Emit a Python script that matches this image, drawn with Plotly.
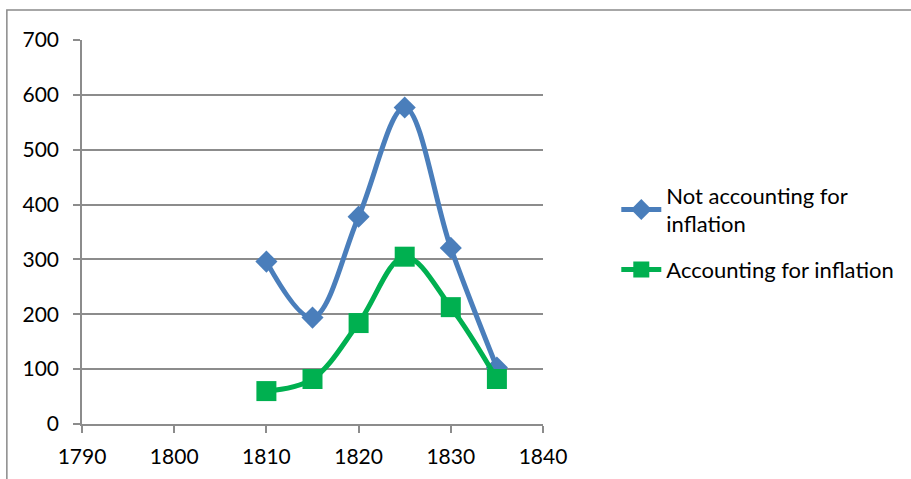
import plotly.graph_objects as go

years = [1810, 1815, 1820, 1825, 1830, 1835]
not_adjusted = [296, 194, 378, 577, 321, 103]
adjusted = [60, 82, 184, 305, 213, 82]

x_ticks = [1790, 1800, 1810, 1820, 1830, 1840]
y_ticks = [0, 100, 200, 300, 400, 500, 600, 700]

BLUE = "#4A7EBB"
GREEN = "#00B050"
GRID = "#8C8C8C"
FONT = "Lato"

fig = go.Figure()
fig.add_trace(go.Scatter(
    x=years, y=not_adjusted, mode="lines+markers",
    name="Not accounting for<br>inflation", legendgroup="nominal",
    line=dict(color=BLUE, width=5, shape="spline", smoothing=1.0),
    marker=dict(symbol="diamond", size=17, color=BLUE),
))
fig.add_trace(go.Scatter(
    x=years, y=adjusted, mode="lines+markers",
    name="Accounting for inflation", legendgroup="real",
    line=dict(color=GREEN, width=5, shape="spline", smoothing=1.0),
    marker=dict(symbol="square", size=20, color=GREEN),
))

# outer chart frame (top and left edges visible)
fig.add_shape(type="rect", xref="paper", yref="paper",
              x0=-0.163, x1=2, y0=-1, y1=1.078,
              line=dict(color="#8A8A8A", width=1.5), layer="below")

fig.update_layout(
    width=911, height=479,
    margin=dict(l=82, r=368, t=40, b=55),
    paper_bgcolor="white", plot_bgcolor="white",
    font=dict(family=FONT, size=21, color="#000000"),
    showlegend=True,
    legend=dict(x=1.159, y=0.65, xanchor="left", yanchor="top",
                font=dict(family=FONT, size=22), tracegroupgap=14,
                itemwidth=40, bgcolor="rgba(0,0,0,0)"),
    xaxis=dict(range=[1790, 1840], tickvals=x_ticks, showgrid=False,
               zeroline=False, showline=True, linecolor=GRID, linewidth=1.5,
               ticks="outside", ticklen=7, tickcolor=GRID, tickwidth=1.5,
               ticklabelstandoff=6,
               tickfont=dict(family=FONT, size=21)),
    yaxis=dict(range=[0, 700], tickvals=y_ticks, showgrid=True,
               gridcolor=GRID, gridwidth=1.5, zeroline=False,
               showline=True, linecolor=GRID, linewidth=1.5,
               ticks="outside", ticklen=7, tickcolor=GRID, tickwidth=1.5,
               ticklabelstandoff=10,
               tickfont=dict(family=FONT, size=21)),
)

fig.write_html("out.html")
